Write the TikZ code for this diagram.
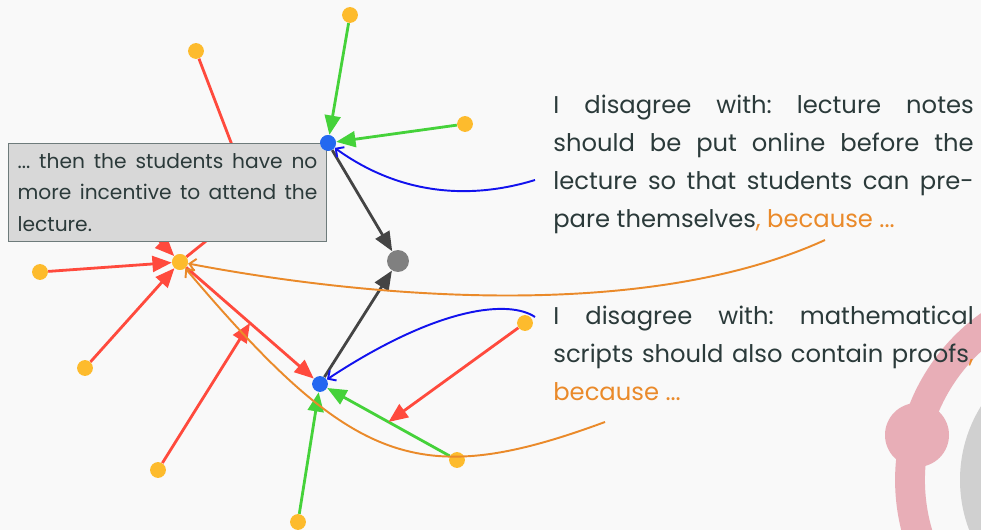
\documentclass[tikz,border=0pt]{standalone}
\usepackage{xcolor}
\usepackage{fontspec}
\setmainfont{Poppins}
\usepackage{tikz}
\usetikzlibrary{arrows.meta}

\definecolor{bgcol}{HTML}{F9F9F9}
\definecolor{argred}{HTML}{FF4A3D}
\definecolor{arggreen}{HTML}{45D23A}
\definecolor{argblue}{HTML}{2468F0}
\definecolor{curveblue}{HTML}{1212EE}
\definecolor{darkarr}{HTML}{444444}
\definecolor{nodegray}{HTML}{808080}
\definecolor{argorange}{HTML}{EA8A2A}
\definecolor{dotyellow}{HTML}{FDBB2D}
\definecolor{txtdark}{HTML}{2B3A3A}
\definecolor{boxfill}{HTML}{D8D8D8}
\definecolor{boxline}{HTML}{6E7B7B}
\definecolor{ringpink}{HTML}{E8AEB7}
\definecolor{ringgray}{HTML}{D0D0D0}

\frenchspacing

\begin{document}
\begin{tikzpicture}[x=0.02cm,y=-0.02cm,
    ydot/.style={circle,fill=dotyellow,inner sep=0pt,minimum size=9pt},
    bdot/.style={circle,fill=argblue,inner sep=0pt,minimum size=9pt},
    gdot/.style={circle,fill=nodegray,inner sep=0pt,minimum size=12.5pt},
    attack/.style={draw=argred,line width=1.6pt,-{Triangle[length=11pt,width=9pt]}},
    support/.style={draw=arggreen,line width=1.6pt,-{Triangle[length=11pt,width=9pt]}},
    conclude/.style={draw=darkarr,line width=1.6pt,-{Triangle[length=11pt,width=9pt]}},
    blueline/.style={draw=curveblue,line width=1.1pt,-{Straight Barb[length=3.5pt,width=7pt]}},
    orangeline/.style={draw=argorange,line width=1.1pt,-{Straight Barb[length=3.5pt,width=7pt]}},
    notebox/.style={draw=boxline,fill=boxfill,line width=0.8pt,text=txtdark,
        text width=170.6pt,align=justify,inner xsep=5.1pt,inner ysep=5.6pt,
        font=\fontsize{11.5pt}{17.9pt}\selectfont},
    claimtext/.style={text=txtdark,text width=239.3pt,align=justify,inner sep=0pt,
        font=\fontsize{13.8pt}{21.5pt}\selectfont}]

    % background and decoration
    \path[use as bounding box,fill=bgcol] (0,0) rectangle (981,530);
    \begin{scope}
        \clip (0,0) rectangle (981,530);
        \draw[ringpink,line width=17pt] (1100,480) circle (190);
        \fill[ringpink] (917,435) circle (32);
        \fill[ringgray] (1100,480) circle (140);
    \end{scope}

    % argument nodes
    \node[ydot] (ytop) at (350,15) {};
    \node[ydot] (ytr) at (465,124) {};
    \node[ydot] (yul) at (196,51) {};
    \node[bdot] (b1) at (328,143) {};
    \node[ydot] (y0) at (180,262) {};
    \node[ydot] (yl) at (40,272) {};
    \node[ydot] (yll) at (85,368) {};
    \node[ydot] (ybl) at (158,470) {};
    \node[bdot] (b2) at (320,384) {};
    \node[ydot] (ybot) at (298,522) {};
    \node[ydot] (ybr) at (457,460) {};
    \node[ydot] (yr) at (525,323) {};
    \node[gdot] (g) at (398,261) {};
    \coordinate (hid) at (110,190);
    \coordinate (c1) at (535,180);
    \coordinate (c2) at (535,317);
    \coordinate (o1) at (825,240);
    \coordinate (o2) at (605,422);

    % relations
    \draw[attack] (y0) -- coordinate[pos=.5] (m0) (b1);
    \draw[attack] (yul) -- (m0);
    \draw[attack] (hid) -- (y0);
    \draw[attack] (yl) -- (y0);
    \draw[attack] (yll) -- (y0);
    \draw[attack] (y0) -- coordinate[pos=.5] (m1) (b2);
    \draw[attack] (ybl) -- (m1);
    \draw[support] (ytop) -- (b1);
    \draw[support] (ytr) -- (b1);
    \draw[support] (ybot) -- (b2);
    \draw[support] (ybr) -- coordinate[pos=.5] (m2) (b2);
    \draw[attack] (yr) -- (m2);
    \draw[conclude] (b1) -- (g);
    \draw[conclude] (b2) -- (g);

    % links from the texts
    \draw[blueline] (c1) .. controls (470,200) and (400,195) .. (b1);
    \draw[blueline] (c2) .. controls (510,300) and (440,305) .. (b2);
    \draw[orangeline] (o1) .. controls (650,320) and (380,300) .. (y0);
    \draw[orangeline] (o2) .. controls (418,491) and (352,465) .. (y0);

    % note over the graph
    \node[notebox,anchor=north west] (note) at (8,143)
        {... then the students have no\linebreak more incentive to attend the\linebreak lecture.};
    \node[bdot] at (b1) {};
    \node[ydot] at (y0) {};

    % claims
    \node[claimtext,anchor=north west] (claim1) at (553,95)
        {I disagree with: lecture notes\linebreak should be put online before the\linebreak
         lecture so that students can pre-\linebreak pare themselves\textcolor{argorange}{, because ...}};
    \node[claimtext,anchor=north west] (claim2) at (553,306)
        {I disagree with: mathematical\linebreak scripts should also contain proofs\textcolor{argorange}{,}\linebreak
         \textcolor{argorange}{because ...}};
\end{tikzpicture}
\end{document}
